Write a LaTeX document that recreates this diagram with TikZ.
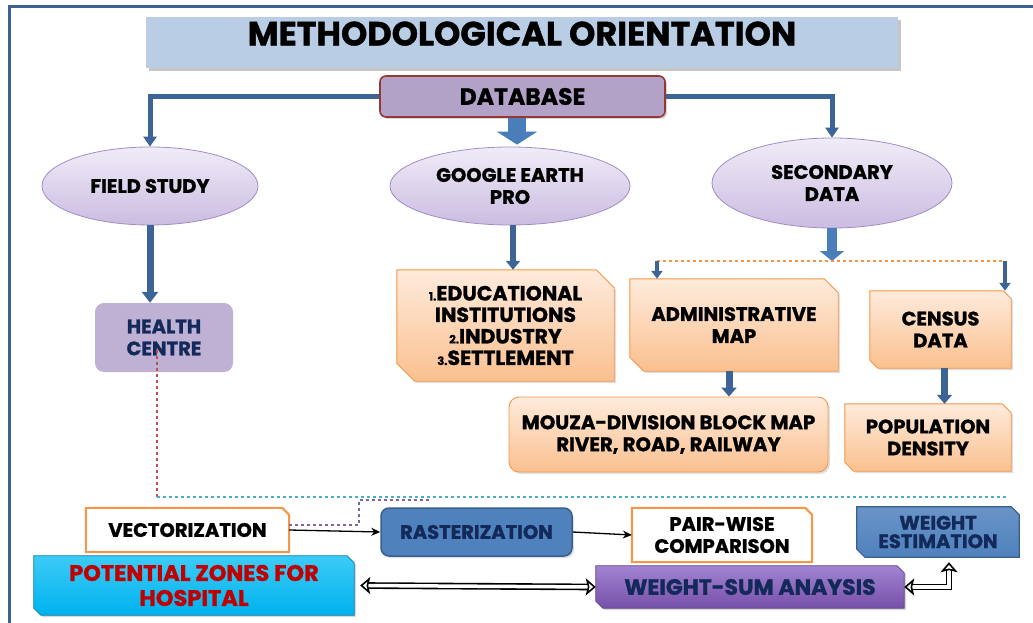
\documentclass[tikz,border=0pt]{standalone}
\usepackage{fontspec}
\setmainfont{Poppins}[BoldFeatures={FakeBold=1.2}]
\usetikzlibrary{shapes.geometric,arrows.meta,shadows,calc}
\pgfdeclarelayer{background}
\pgfsetlayers{background,main}
\definecolor{frameblue}{HTML}{3C6193}
\definecolor{titlefill}{HTML}{B9CDE5}
\definecolor{dbfill}{HTML}{B3A2C7}
\definecolor{dbline}{HTML}{953735}
\definecolor{arrblue}{HTML}{3D6496}
\definecolor{blockblue}{HTML}{4A7EBB}
\definecolor{elltop}{HTML}{F0ECF7}
\definecolor{ellbot}{HTML}{CBBCE1}
\definecolor{ellline}{HTML}{A28CC6}
\definecolor{hcfill}{HTML}{BFB1D4}
\definecolor{navytext}{HTML}{12295A}
\definecolor{ortop}{HTML}{FEEBDC}
\definecolor{orbot}{HTML}{FAC08F}
\definecolor{orline}{HTML}{F79646}
\definecolor{rasfill}{HTML}{4F81BD}
\definecolor{rasline}{HTML}{3A5F8F}
\definecolor{pztop}{HTML}{3CCBF7}
\definecolor{pzfill}{HTML}{00B2EE}
\definecolor{pztext}{HTML}{C00000}
\definecolor{wstop}{HTML}{A283D2}
\definecolor{wsbot}{HTML}{7650A8}
\definecolor{reddash}{HTML}{C0504D}
\definecolor{cyandash}{HTML}{4BACC6}
\definecolor{purpdash}{HTML}{8064A2}
% chamfered outline behind a node: #1 node, #2 chamfer, #3 style
\newcommand\chamfboth[3]{\path[#3] (#1.north west) -- ([xshift=-#2]#1.north east) -- ([yshift=-#2]#1.north east) -- (#1.south east) -- ([xshift=#2]#1.south west) -- ([yshift=#2]#1.south west) -- cycle;}
\newcommand\chamfne[3]{\path[#3] (#1.north west) -- ([xshift=-#2]#1.north east) -- ([yshift=-#2]#1.north east) -- (#1.south east) -- (#1.south west) -- cycle;}
\newcommand\smallnum[1]{{\fontsize{11.5}{12}\selectfont #1}}
\begin{document}
\begin{tikzpicture}[x=1pt,y=-1pt,
  every node/.style={inner sep=0pt, align=center},
  fbig/.style={font=\fontsize{19.5}{22}\selectfont\bfseries},
  ell/.style={ellipse, draw=ellline, line width=0.8pt, top color=elltop, bottom color=ellbot, fbig},
  orshape/.style={draw=orline, line width=0.9pt, top color=ortop, bottom color=orbot,
    drop shadow={shadow xshift=2pt, shadow yshift=-2pt, opacity=0.25}},
  whshape/.style={draw=orline, line width=2pt, fill=white},
  blueshape/.style={draw=rasline, line width=1.2pt, top color=rasfill!85!white, bottom color=rasfill},
  bluearr/.style={draw=arrblue, line width=5pt, -{Triangle[width=13pt,length=10pt]}},
  blockarr/.style={draw=blockblue, line width=#1},
  dasharr/.style={draw=arrblue, line width=4pt, -{Triangle[width=11pt,length=8pt]}},
  thinarr/.style={draw=black, line width=1.3pt, -{Stealth[length=9pt,width=8pt]}},
  dblarr/.style={draw=black, double=white, double distance=3.5pt, line width=1.6pt,
    {Stealth[open, fill=white, length=10pt, width=17pt, inset=2pt, line width=1.6pt]}-{Stealth[open, fill=white, length=10pt, width=17pt, inset=2pt, line width=1.6pt]}},
]
\useasboundingbox (0,0) rectangle (1033,623);
% frame
\draw[frameblue, line width=3pt] (9,623) -- (9,7) -- (1033,7);

% title
\node[fill=titlefill, minimum width=752pt, minimum height=51pt, text depth=18pt,
  font=\fontsize{33.5}{36}\selectfont\bfseries,
  drop shadow={shadow xshift=3pt, shadow yshift=-3pt, opacity=0.45}] (title) at (522,42.5) {METHODOLOGICAL ORIENTATION};

% database
\node[fill=dbfill, draw=dbline, line width=1.6pt, rounded corners=6pt, minimum width=285pt, minimum height=41pt,
  font=\fontsize{23.5}{26}\selectfont\bfseries,
  drop shadow={shadow xshift=2pt, shadow yshift=-2pt, opacity=0.3}] (db) at (522.5,96.5) {DATABASE};

% ellipses
\node[ell, minimum width=216pt, minimum height=78pt] (fs) at (150,186) {FIELD STUDY};
\node[ell, minimum width=240pt, minimum height=78pt] (ge) at (510,186) {GOOGLE EARTH\\PRO};
\node[ell, minimum width=240pt, minimum height=90pt] (sd) at (832,183) {SECONDARY\\DATA};

% health centre
\node[fill=hcfill, rounded corners=9pt, minimum width=138pt, minimum height=69pt, fbig, text=navytext] (hc) at (164,337.5) {HEALTH\\CENTRE};

% orange boxes (text nodes, shapes behind)
\node[minimum width=217pt, minimum height=111pt, font=\fontsize{20.5}{21.5}\selectfont\bfseries] (edu) at (505.5,325.5)
  {\smallnum{1.}EDUCATIONAL\\INSTITUTIONS\\\smallnum{2.}INDUSTRY\\\smallnum{3.}SETTLEMENT};
\node[minimum width=208pt, minimum height=92pt, fbig] (adm) at (734,325) {ADMINISTRATIVE\\MAP};
\node[minimum width=141pt, minimum height=77pt, fbig] (cen) at (940.5,329.5) {CENSUS\\DATA};
\node[orshape, rounded corners=10pt, minimum width=319pt, minimum height=75pt, font=\fontsize{19.7}{22}\selectfont\bfseries] (mou) at (668.5,434.5) {MOUZA-DIVISION BLOCK MAP\\RIVER, ROAD, RAILWAY};
\node[minimum width=166pt, minimum height=67pt, fbig] (pop) at (928,437.5) {POPULATION\\DENSITY};

% bottom row
\node[minimum width=203pt, minimum height=44pt, fbig] (vec) at (187.5,530) {VECTORIZATION};
\node[fill=rasfill, draw=rasline, line width=1.5pt, rounded corners=8pt, minimum width=191pt, minimum height=48pt, fbig, text=navytext,
  drop shadow={shadow xshift=2pt, shadow yshift=-2pt, opacity=0.25}] (ras) at (476.5,532) {RASTERIZATION};
\node[minimum width=180pt, minimum height=54pt, fbig] (pw) at (722,535) {PAIR-WISE\\COMPARISON};
\node[minimum width=162pt, minimum height=50pt, font=\fontsize{19.5}{18.5}\selectfont\bfseries, text=navytext] (we) at (938,532) {WEIGHT\\ESTIMATION};
\node[minimum width=320pt, minimum height=59pt, font=\fontsize{22.5}{25}\selectfont\bfseries, text=pztext] (pz) at (194,585.5) {POTENTIAL ZONES FOR\\HOSPITAL};
\node[minimum width=308pt, minimum height=42pt, font=\fontsize{22}{24}\selectfont\bfseries, text=navytext] (ws) at (750,587) {WEIGHT-SUM ANAYSIS};

\begin{pgfonlayer}{background}
  \chamfboth{edu}{18pt}{orshape}
  \chamfboth{adm}{14pt}{orshape}
  \chamfboth{cen}{8pt}{orshape}
  \chamfboth{pop}{9pt}{orshape}
  \chamfne{vec}{7pt}{whshape}
  \chamfne{pw}{7pt}{whshape}
  \chamfboth{we}{8pt}{blueshape}
  \chamfboth{pz}{7pt}{draw=pzfill!70!black, line width=0.8pt, top color=pztop, bottom color=pzfill, drop shadow={shadow xshift=2pt, shadow yshift=-2pt, opacity=0.3}}
  \chamfboth{ws}{7pt}{draw=wsbot!80!black, line width=0.8pt, top color=wstop, bottom color=wsbot, drop shadow={shadow xshift=2pt, shadow yshift=-2pt, opacity=0.3}}
\end{pgfonlayer}

% connectors from database
\draw[bluearr] (db.west) -| (fs.north);
\draw[bluearr] (db.east) -| (sd.north);
\draw[blockarr=18pt, -{Triangle[width=40pt,length=13pt]}] ([xshift=-5.5pt]db.south) -- ([xshift=-5.5pt,yshift=2pt]db.south |- ge.north);

% down arrows
\draw[blockarr=7pt, draw=arrblue, -{Triangle[width=16pt,length=11pt]}] (fs.south) -- (fs.south |- hc.north);
\draw[blockarr=6pt, draw=arrblue, -{Triangle[width=14pt,length=9pt]}] ([xshift=3pt]ge.south) -- ([xshift=3pt]ge.south |- edu.north);
\coordinate (split) at (832,261);
\coordinate (sl) at (657,261);
\coordinate (sr) at (1005,261);
\draw[blockarr=10pt, -{Triangle[width=24pt,length=10pt]}] (sd.south) -- (split);
\draw[orline, dashed, line width=1.2pt] (sl) -- (sr);
\draw[dasharr] (sl) -- (sl |- adm.north);
\draw[dasharr] (sr) -- (sr |- cen.north);
\draw[blockarr=7pt, draw=arrblue, -{Triangle[width=15pt,length=9pt]}] ([xshift=-5pt]adm.south) -- ([xshift=-5pt]adm.south |- mou.north);
\draw[blockarr=7pt, draw=arrblue, -{Triangle[width=15pt,length=9pt]}] ([xshift=4pt]cen.south) -- ([xshift=4pt]cen.south |- pop.north);

% dashed links
\coordinate (dl) at (157,497);
\coordinate (dr) at (1008,497);
\draw[reddash, dashed, line width=1.2pt] ([xshift=-7pt,yshift=-12pt]hc.center) -- (dl);
\draw[cyandash, dashed, line width=1.4pt] (dl) -- (dr);
\coordinate (p1) at (359,525);
\coordinate (p2) at (359,500);
\coordinate (p3) at (432,500);
\draw[purpdash, dashed, line width=1.4pt] ([yshift=5pt]vec.east) -- (p1) -- (p2) -- (p3);

% bottom arrows
\draw[thinarr] (vec.east) -- (ras.west);
\draw[thinarr] (ras.east) -- (pw.west);
\draw[dblarr] ([xshift=6pt]pz.east) -- (ws.west);
\draw[dblarr] (ws.east) -| ([xshift=11pt,yshift=-5pt]we.south);
\end{tikzpicture}
\end{document}
